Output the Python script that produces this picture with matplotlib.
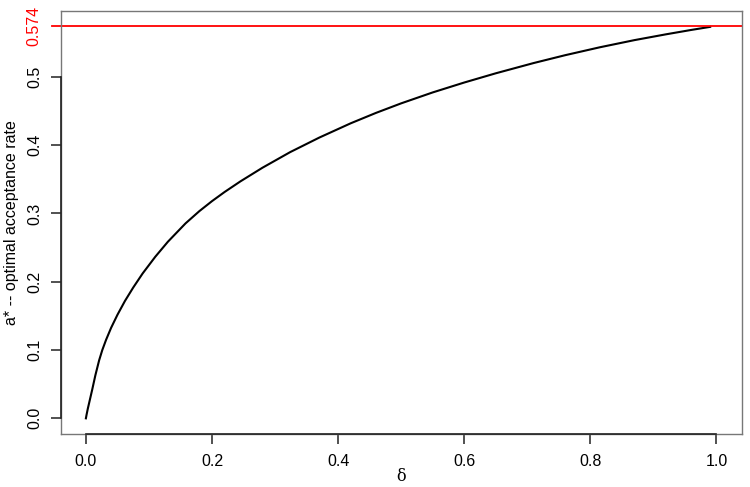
import matplotlib
matplotlib.use("Agg")
import matplotlib.pyplot as plt

# Values
delta = [0.0, 0.001, 0.003, 0.006, 0.010, 0.015, 0.021, 0.026, 0.032, 0.040,
         0.050, 0.062, 0.075, 0.090, 0.110, 0.130, 0.158, 0.180, 0.200, 0.220,
         0.245, 0.280, 0.324, 0.370, 0.420, 0.460, 0.500, 0.550, 0.600, 0.650,
         0.710, 0.760, 0.815, 0.870, 0.920, 0.960, 0.990]
a_star = [0.0, 0.005, 0.014, 0.026, 0.042, 0.063, 0.085, 0.100, 0.115, 0.1326,
          0.1516, 0.172, 0.1915, 0.2122, 0.2366, 0.2586, 0.2855, 0.3035, 0.3181, 0.3315,
          0.347, 0.367, 0.3899, 0.4111, 0.4321, 0.4473, 0.4613, 0.4773, 0.4918, 0.5053,
          0.5203, 0.5318, 0.5434, 0.5539, 0.5624, 0.5688, 0.5733]
a_max = 0.574
x_ticks = [0.0, 0.2, 0.4, 0.6, 0.8, 1.0]
x_tick_labels = ["0.0", "0.2", "0.4", "0.6", "0.8", "1.0"]
y_ticks = [0.0, 0.1, 0.2, 0.3, 0.4, 0.5]
y_tick_labels = ["0.0", "0.1", "0.2", "0.3", "0.4", "0.5"]

plt.rcParams['font.family'] = ['Liberation Sans', 'DejaVu Sans']
plt.rcParams['xtick.major.size'] = 7
plt.rcParams['ytick.major.size'] = 7
plt.rcParams['xtick.major.width'] = 1.2
plt.rcParams['ytick.major.width'] = 1.2
plt.rcParams['xtick.color'] = '#333333'
plt.rcParams['ytick.color'] = '#333333'
plt.rcParams['xtick.labelcolor'] = 'black'
plt.rcParams['ytick.labelcolor'] = 'black'
plt.rcParams['xtick.direction'] = 'out'
plt.rcParams['ytick.direction'] = 'out'

fig = plt.figure(figsize=(7.5, 4.87), dpi=100)
ax = fig.add_axes([0.0809, 0.1088, 0.9889 - 0.0809, 0.978 - 0.1088])

ax.set_xlim(-0.04, 1.04)
ax.set_ylim(-0.02296, 0.59696)
ax.set_xticks(x_ticks, x_tick_labels)
ax.set_yticks(y_ticks, y_tick_labels, rotation=90, va='center')
ax.tick_params(axis='both', labelsize=11.5)
ax.tick_params(axis='x', pad=7.5)
ax.tick_params(axis='y', pad=6.5)

ax.plot(delta, a_star, color='black', lw=1.5, solid_joinstyle='round')
ax.axhline(a_max, color='red', lw=1.3)

# red tick and label for the 0.574 level
ax.plot([-9.0 / 681, 0], [a_max, a_max], color='red', lw=1.3, clip_on=False,
        transform=ax.get_yaxis_transform())
ax.text(-6.5 / 681 - 0.0295, a_max, "0.574", color='red', fontsize=11.5,
        rotation=90, ha='center', va='center', transform=ax.get_yaxis_transform())

for s in ax.spines.values():
    s.set_color('#777777')
    s.set_linewidth(1.0)

# R-style axis lines from first to last tick
ax.plot([x_ticks[0], x_ticks[-1]], [0, 0], color='#222222', lw=1.2,
        clip_on=False, zorder=5, transform=ax.get_xaxis_transform())
ax.plot([0, 0], [y_ticks[0], y_ticks[-1]], color='#222222', lw=1.2,
        clip_on=False, zorder=5, transform=ax.get_yaxis_transform())

ax.set_ylabel("a* -- optimal acceptance rate", fontsize=11.5, labelpad=6)
ax.set_xlabel("δ", fontsize=11.5, family=['DejaVu Serif'], labelpad=-1)

fig.savefig("out.png", dpi=100)
